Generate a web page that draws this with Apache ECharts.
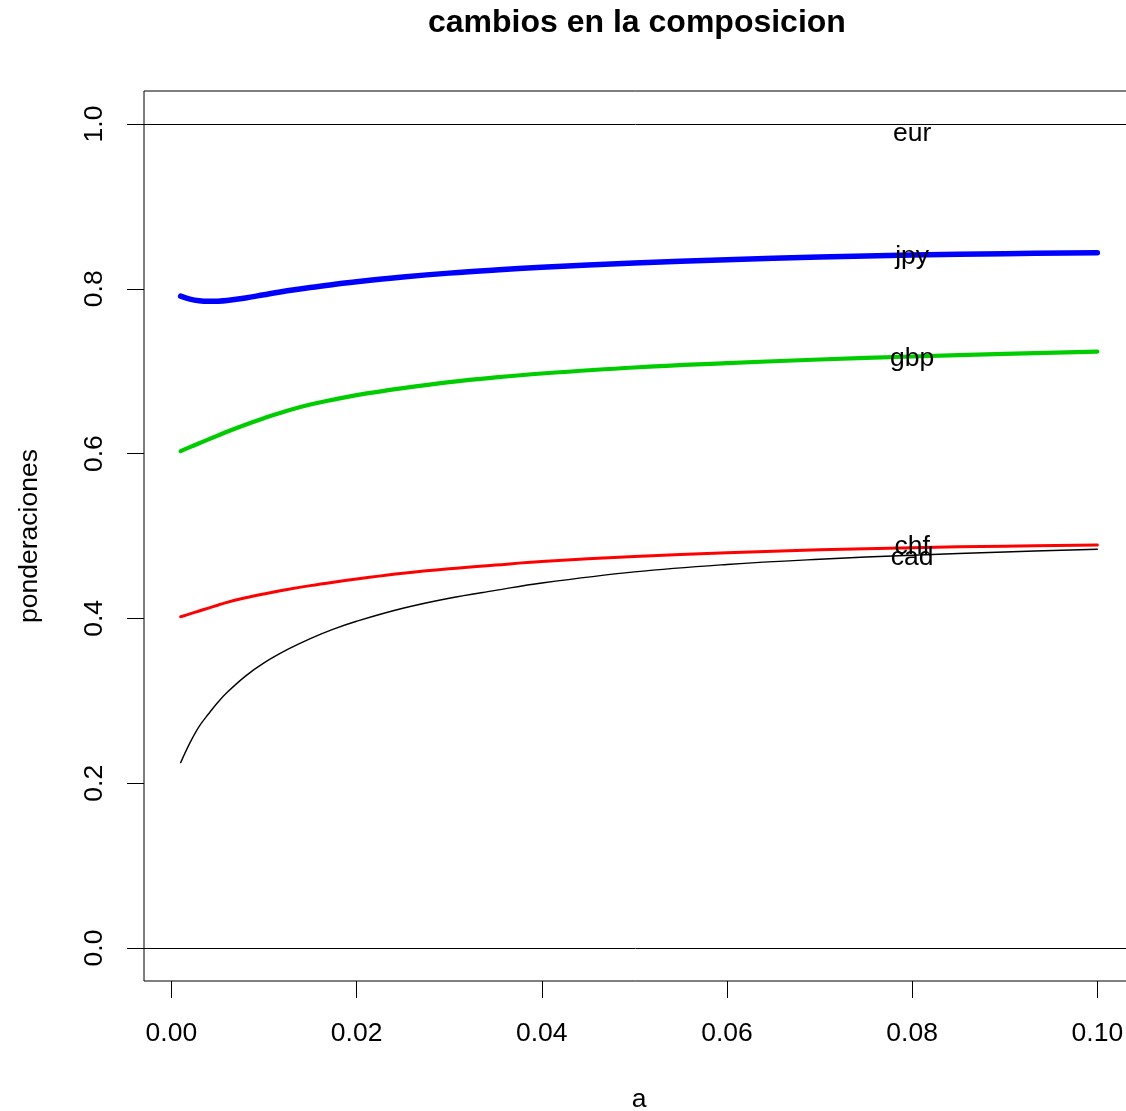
<!DOCTYPE html>
<html>
<head>
<meta charset="utf-8">
<script src="https://cdn.jsdelivr.net/npm/echarts@6/dist/echarts.min.js"></script>
<style>
  html, body { margin: 0; padding: 0; background: #fff; overflow: hidden; }
  #chart { width: 1126px; height: 1111px; }
</style>
</head>
<body>
<div id="chart"></div>
<script>
// valores de a (eje x)
const aVals = [0.001, 0.002, 0.003, 0.004, 0.005, 0.006, 0.008, 0.01, 0.0125, 0.015, 0.0175,
  0.02, 0.025, 0.03, 0.035, 0.04, 0.05, 0.06, 0.07, 0.08, 0.09, 0.1];
// ponderaciones acumuladas
const cad = [0.225, 0.249, 0.269, 0.284, 0.298, 0.310, 0.330, 0.346, 0.362, 0.3755, 0.387,
  0.3966, 0.4123, 0.4245, 0.4340, 0.4430, 0.4565, 0.4655, 0.4718, 0.4767, 0.4806, 0.4839];
const chf = [0.402, 0.4055, 0.409, 0.4125, 0.416, 0.4195, 0.4250, 0.4297, 0.4350, 0.4398, 0.4440,
  0.4478, 0.4548, 0.4603, 0.4648, 0.4690, 0.4752, 0.4797, 0.4832, 0.4858, 0.4877, 0.4891];
const gbp = [0.603, 0.6078, 0.6125, 0.6172, 0.6218, 0.6265, 0.635, 0.643, 0.652, 0.6595, 0.6655,
  0.671, 0.6795, 0.6868, 0.6925, 0.6972, 0.7045, 0.7097, 0.7142, 0.7178, 0.721, 0.7237];
const jpy = [0.791, 0.7875, 0.7855, 0.7848, 0.785, 0.7858, 0.7888, 0.7928, 0.7975, 0.8016, 0.8052,
  0.8085, 0.8142, 0.819, 0.8228, 0.826, 0.8312, 0.8352, 0.8385, 0.841, 0.8426, 0.8438];
// etiquetas de texto en a = 0.08
const labelNames = ["eur", "jpy", "gbp", "chf", "cad"];
const labelVals = [0.9887, 0.839, 0.7157, 0.4866, 0.4733];
const labelX = 0.08;
// marcas de los ejes
const xTicks = [0, 0.02, 0.04, 0.06, 0.08, 0.1];
const yTicks = [0, 0.2, 0.4, 0.6, 0.8, 1.0];
const hLines = [0, 1];

const font = "'Liberation Sans', Arial, sans-serif";
const zip = (ys) => aVals.map((x, i) => [x, ys[i]]);

const lineSeries = (data, color, width) => ({
  type: "line",
  data: zip(data),
  showSymbol: false,
  smooth: 0.4,
  lineStyle: { color: color, width: width, cap: "round", join: "round" },
  z: 3,
});

let myChart = echarts.init(document.getElementById("chart"));
myChart.setOption({
  animation: false,
  title: {
    text: "cambios en la composicion",
    left: 428,
    top: 7,
    padding: 0,
    textStyle: { fontFamily: font, fontSize: 32, fontWeight: "bold", color: "#000" },
  },
  grid: {
    left: 144,
    top: 91,
    width: 990,
    height: 890,
    show: true,
    borderColor: "#000",
    borderWidth: 1,
    containLabel: false,
    outerBoundsMode: "none",
  },
  xAxis: {
    type: "value",
    min: -0.00296,
    max: 0.10396,
    name: "a",
    nameLocation: "middle",
    nameGap: 105,
    nameTextStyle: { fontFamily: font, fontSize: 26.5, color: "#000" },
    axisLine: { show: false, onZero: false },
    splitLine: { show: false },
    axisTick: {
      show: true,
      inside: false,
      length: 17,
      customValues: xTicks,
      lineStyle: { color: "#000", width: 1 },
    },
    axisLabel: {
      customValues: xTicks,
      margin: 39,
      formatter: (v) => v.toFixed(2),
      fontFamily: font,
      fontSize: 26.5,
      color: "#000",
    },
  },
  yAxis: {
    type: "value",
    min: -0.04,
    max: 1.04,
    name: "ponderaciones",
    nameLocation: "middle",
    nameRotate: 90,
    nameGap: 101,
    nameTextStyle: { fontFamily: font, fontSize: 26.5, color: "#000" },
    axisLine: { show: false, onZero: false },
    splitLine: { show: false },
    axisTick: {
      show: true,
      inside: false,
      length: 17,
      customValues: yTicks,
      lineStyle: { color: "#000", width: 1 },
    },
    axisLabel: {
      customValues: yTicks,
      rotate: 90,
      margin: 36,
      formatter: (v) => v.toFixed(1),
      fontFamily: font,
      fontSize: 26.5,
      color: "#000",
    },
  },
  series: [
    {
      ...lineSeries(cad, "#000000", 1.4),
      markLine: {
        silent: true,
        symbol: "none",
        label: { show: false },
        lineStyle: { color: "#000", width: 1, type: "solid" },
        data: hLines.map((v) => ({ yAxis: v })),
      },
    },
    lineSeries(chf, "#ff0000", 3),
    lineSeries(gbp, "#00cd00", 4.2),
    lineSeries(jpy, "#0000ff", 5.5),
    {
      type: "scatter",
      symbolSize: 0,
      itemStyle: { opacity: 1 },
      data: labelNames.map((n, i) => [labelX, labelVals[i], n]),
      label: {
        show: true,
        position: "inside",
        formatter: (p) => p.value[2],
        fontFamily: font,
        fontSize: 26.5,
        color: "#000",
        opacity: 1,
        textBorderWidth: 0,
      },
      z: 5,
    },
  ],
});
</script>
</body>
</html>
